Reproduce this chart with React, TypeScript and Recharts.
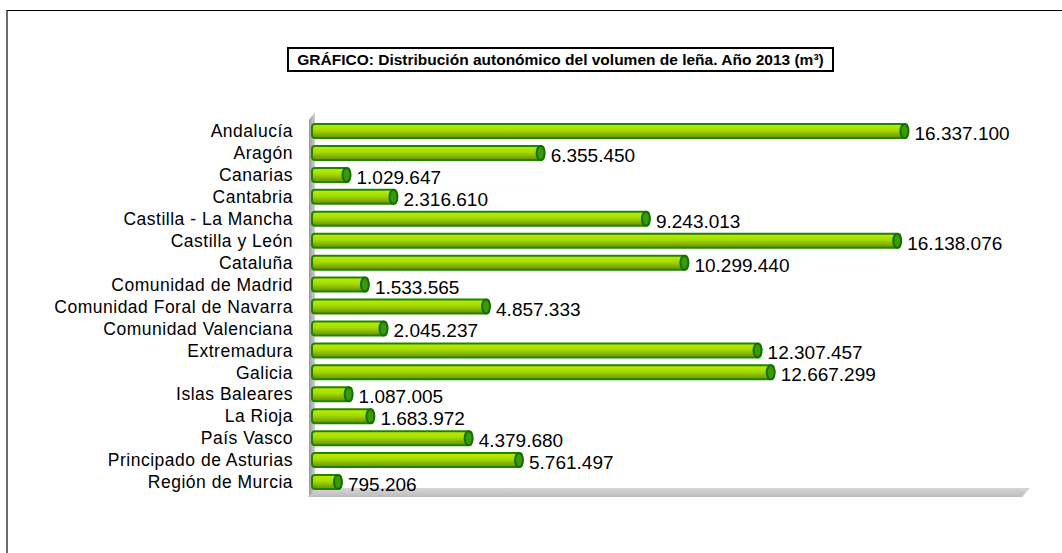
import { BarChart, Bar, XAxis, YAxis, LabelList } from 'recharts';

const regions = [
  'Andalucía',
  'Aragón',
  'Canarias',
  'Cantabria',
  'Castilla - La Mancha',
  'Castilla y León',
  'Cataluña',
  'Comunidad de Madrid',
  'Comunidad Foral de Navarra',
  'Comunidad Valenciana',
  'Extremadura',
  'Galicia',
  'Islas Baleares',
  'La Rioja',
  'País Vasco',
  'Principado de Asturias',
  'Región de Murcia',
];

const volumes = [
  16337100, 6355450, 1029647, 2316610, 9243013, 16138076, 10299440, 1533565,
  4857333, 2045237, 12307457, 12667299, 1087005, 1683972, 4379680, 5761497, 795206,
];

const xDomain = [0, 20000000];

const data = regions.map((name, i) => ({ name, value: volumes[i] }));

const fmt = (n: number) => String(n).replace(/\B(?=(\d{3})+(?!\d))/g, '.');

const Cylinder = (props: any) => {
  const { x, y, width, height } = props;
  if (width <= 0) return null;
  const r = 4;
  return (
    <g>
      <rect
        x={x}
        y={y}
        width={width}
        height={height}
        rx={3}
        ry={3}
        fill="url(#cyl)"
        stroke="#1f8500"
        strokeWidth={2}
      />
      <ellipse
        cx={x + width - r + 1}
        cy={y + height / 2}
        rx={r}
        ry={height / 2}
        fill="#3a9a0a"
        stroke="#137000"
        strokeWidth={2}
      />
    </g>
  );
};

const ValueLabel = (props: any) => {
  const { x, y, width, height, value } = props;
  return (
    <text
      x={x + width + 7}
      y={y + height / 2 + 4}
      fontSize={19}
      fill="#000"
      fontFamily="Liberation Sans, Arial, sans-serif"
      dominantBaseline="middle"
    >
      {fmt(value)}
    </text>
  );
};

const App = () => {
  return (
    <div
      style={{
        position: 'absolute',
        left: 0,
        top: 0,
        width: 1062,
        height: 553,
        background: '#fff',
        fontFamily: 'Liberation Sans, Arial, sans-serif',
        overflow: 'hidden',
      }}
    >
      <div
        style={{
          position: 'absolute',
          left: 6,
          top: 10,
          width: 1062,
          height: 553,
          borderTop: '1px solid #000',
          borderLeft: '2px solid #6a6a6a',
        }}
      />
      <div
        style={{
          position: 'absolute',
          left: 287,
          top: 47,
          width: 543,
          height: 21,
          border: '2px solid #000',
          fontSize: 15.5,
          fontWeight: 'bold',
          textAlign: 'center',
          lineHeight: '21px',
          whiteSpace: 'nowrap',
        }}
      >
        GRÁFICO: Distribución autonómico del volumen de leña. Año 2013 (m³)
      </div>
      {/* side wall */}
      <div
        style={{
          position: 'absolute',
          left: 309,
          top: 112,
          width: 6,
          height: 384,
          background: 'linear-gradient(to right, #9a9a9a, #d0d0d0)',
          clipPath: 'polygon(0 8px, 100% 0, 100% 100%, 0 100%)',
        }}
      />
      {/* floor */}
      <div
        style={{
          position: 'absolute',
          left: 308,
          top: 488,
          width: 722,
          height: 9,
          background: 'linear-gradient(to bottom, #d6d6d6, #bdbdbd)',
          clipPath: 'polygon(8px 0, 100% 0, calc(100% - 8px) 100%, 0 100%)',
        }}
      />
      <div style={{ position: 'absolute', left: 0, top: 0 }}>
        <BarChart
          width={1062}
          height={553}
          data={data}
          layout="vertical"
          margin={{ top: 120, right: 21, bottom: 60, left: 0 }}
          barSize={14}
        >
          <defs>
            <linearGradient id="cyl" x1="0" y1="0" x2="0" y2="1">
              <stop offset="0%" stopColor="#c2ee00" />
              <stop offset="45%" stopColor="#a2dc00" />
              <stop offset="100%" stopColor="#6a8c00" />
            </linearGradient>
          </defs>
          <XAxis type="number" domain={xDomain} hide />
          <YAxis
            type="category"
            dataKey="name"
            width={312}
            axisLine={false}
            tickLine={false}
            tickSize={0}
            tickMargin={19}
            interval={0}
            tick={{
              fontSize: 17.5,
              fill: '#000',
              fontFamily: 'Liberation Sans, Arial, sans-serif',
              letterSpacing: 0.5,
            }}
          />
          <Bar dataKey="value" shape={<Cylinder />} isAnimationActive={false}>
            <LabelList dataKey="value" content={<ValueLabel />} />
          </Bar>
        </BarChart>
      </div>
    </div>
  );
};

export default App;
